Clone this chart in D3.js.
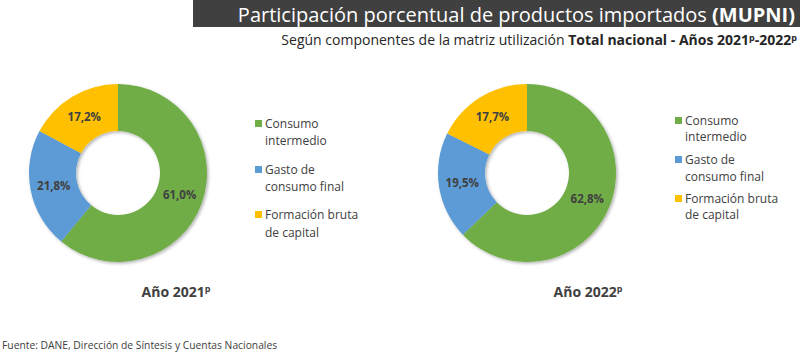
<!DOCTYPE html>
<html>
<head>
<meta charset="utf-8">
<script src="https://cdn.jsdelivr.net/npm/d3@7"></script>
<style>
  body { margin: 0; background: #fff; }
  svg { display: block; font-family: "Open Sans", sans-serif; }
</style>
</head>
<body>
<svg id="chart" width="800" height="353"></svg>
<script>
// Data
const categories = ["Consumo intermedio", "Gasto de consumo final", "Formación bruta de capital"];
const legendLines = [["Consumo", "intermedio"], ["Gasto de", "consumo final"], ["Formación bruta", "de capital"]];
const values2021 = [61.0, 21.8, 17.2];
const values2022 = [62.8, 19.5, 17.7];
const years = ["2021", "2022"];
const colors = ["#70AD47", "#5B9BD5", "#FFC000"];

const svg = d3.select("#chart");

// Drop shadow for donuts
const defs = svg.append("defs");
const filter = defs.append("filter").attr("id", "shadow")
  .attr("x", "-20%").attr("y", "-20%").attr("width", "140%").attr("height", "140%");
filter.append("feDropShadow")
  .attr("dx", 1.5).attr("dy", 1.5).attr("stdDeviation", 1.5)
  .attr("flood-color", "#000").attr("flood-opacity", 0.3);

// Title bar
svg.append("rect")
  .attr("x", 193).attr("y", 0)
  .attr("width", 607).attr("height", 27)
  .attr("fill", "#404040");

const title = svg.append("text")
  .attr("x", 795).attr("y", 21.5)
  .attr("text-anchor", "end")
  .attr("fill", "#fff")
  .style("font-size", "20px");
title.append("tspan").text("Participación porcentual de productos importados ");
title.append("tspan").style("font-weight", "bold").text("(MUPNI)");

const subtitle = svg.append("text")
  .attr("x", 797).attr("y", 45)
  .attr("text-anchor", "end")
  .attr("fill", "#262626")
  .style("font-size", "14px");
subtitle.append("tspan").text("Según componentes de la matriz utilización ");
subtitle.append("tspan").style("font-weight", "bold").text("Total nacional - Años 2021");
subtitle.append("tspan").style("font-weight", "bold").style("font-size", "9px").attr("dy", -4).text("p");
subtitle.append("tspan").style("font-weight", "bold").attr("dy", 4).text("-2022");
subtitle.append("tspan").style("font-weight", "bold").style("font-size", "9px").attr("dy", -4).text("p");

const fmt = v => d3.format(".1f")(v).replace(".", ",") + "%";

const pie = d3.pie().sort(null).value(d => d);

function donut(values, cx, cy, outer, inner, legendX, legendYs, year, yearX) {
  const g = svg.append("g").attr("transform", `translate(${cx},${cy})`);
  const arc = d3.arc().innerRadius(inner).outerRadius(outer);
  const labelArc = d3.arc().innerRadius((inner + outer) / 2).outerRadius((inner + outer) / 2);
  const arcs = pie(values);

  g.append("g").attr("filter", "url(#shadow)")
    .selectAll("path")
    .data(arcs)
    .enter()
    .append("path")
    .attr("d", arc)
    .attr("fill", (d, i) => colors[i]);

  g.selectAll("text.lbl")
    .data(arcs)
    .enter()
    .append("text")
    .attr("class", "lbl")
    .attr("transform", d => `translate(${labelArc.centroid(d)})`)
    .attr("text-anchor", "middle")
    .attr("dy", "0.35em")
    .attr("fill", "#404040")
    .style("font-size", "11.5px")
    .style("font-weight", "bold")
    .text(d => fmt(d.data));

  // Legend
  const lg = svg.append("g");
  categories.forEach((c, i) => {
    const y = legendYs[i];
    lg.append("rect")
      .attr("x", legendX).attr("y", y[0] - 4)
      .attr("width", 7).attr("height", 7)
      .attr("fill", colors[i]);
    legendLines[i].forEach((line, j) => {
      lg.append("text")
        .attr("x", legendX + 10).attr("y", y[j])
        .attr("dy", "0.35em")
        .attr("fill", "#404040")
        .style("font-size", "12px")
        .text(line);
    });
  });

  // Year label
  const yt = svg.append("text")
    .attr("x", yearX).attr("y", 297)
    .attr("text-anchor", "middle")
    .attr("fill", "#404040")
    .style("font-size", "14px")
    .style("font-weight", "bold");
  yt.append("tspan").text("Año " + year);
  yt.append("tspan").style("font-size", "9px").attr("dy", -5).text("p");
}

donut(values2021, 118, 173, 89, 42, 255,
  [[124, 141], [170, 187], [215, 233]], years[0], 176);
donut(values2022, 527, 173, 89, 42, 675,
  [[121, 137], [160, 177], [199, 215]], years[1], 588);

// Source note
svg.append("text")
  .attr("x", 2).attr("y", 349)
  .attr("fill", "#404040")
  .style("font-size", "10.3px")
  .text("Fuente: DANE, Dirección de Síntesis y Cuentas Nacionales");
</script>
</body>
</html>
